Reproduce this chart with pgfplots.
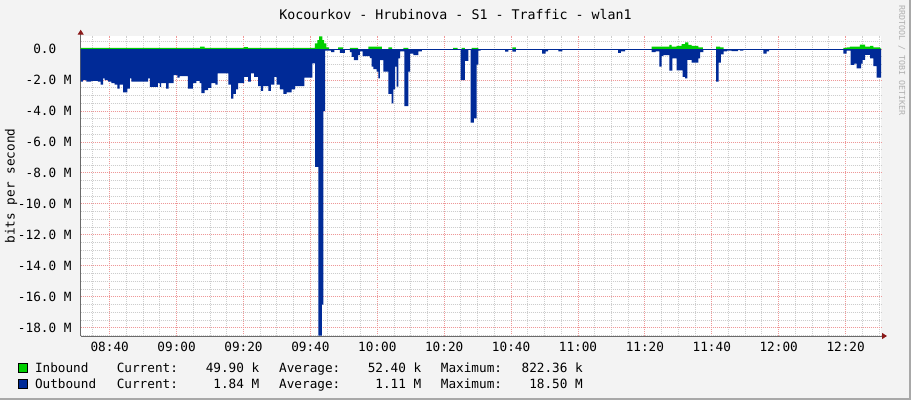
\documentclass[border=0pt]{standalone}
\usepackage{pgfplots}
\pgfplotsset{compat=1.18}
\usetikzlibrary{arrows.meta}
\usepackage{fontspec}
\setmainfont{DejaVu Sans Mono}
\definecolor{bgc}{HTML}{F3F3F3}
\definecolor{inb}{HTML}{00CF00}
\definecolor{outb}{HTML}{002A97}
\definecolor{mgrid}{HTML}{EE9898}
\definecolor{ngrid}{HTML}{CDCDCD}
\definecolor{wm}{HTML}{B0B0B0}
\definecolor{axc}{HTML}{6A6A6A}
\definecolor{arc}{HTML}{8B1A1A}
\definecolor{shb}{HTML}{A8A8A8}
\newcommand\fs{\fontsize{12.7}{14}\selectfont}
\begin{document}
\begin{tikzpicture}[x=1pt,y=1pt]
\useasboundingbox[fill=bgc] (0,0) rectangle (911,400);
\begin{axis}[
  at={(80.7pt,64pt)}, anchor=south west,
  scale only axis, width=800.3pt, height=300.3pt,
  xmin=31.33, xmax=270.58, ymin=-18.52, ymax=0.86,
  axis background/.style={fill=white},
  axis x line=bottom, axis y line=left,
  x axis line style={draw=axc, line width=1pt, shorten >=-6pt, -{Triangle[length=5pt,width=6pt,color=arc]}},
  y axis line style={draw=axc, line width=1pt, shorten >=-6pt, -{Triangle[length=5pt,width=6pt,color=arc]}},
  xtick={40,60,80,100,120,140,160,180,200,220,240,260},
  xticklabels={08:40,09:00,09:20,09:40,10:00,10:20,10:40,11:00,11:20,11:40,12:00,12:20},
  minor xtick={35,45,50,55,65,70,75,85,90,95,105,110,115,125,130,135,145,150,155,165,170,175,185,190,195,205,210,215,225,230,235,245,250,255,265,270},
  ytick={0,-2,-4,-6,-8,-10,-12,-14,-16,-18},
  yticklabels={0.0\phantom{ M},-2.0 M,-4.0 M,-6.0 M,-8.0 M,-10.0 M,-12.0 M,-14.0 M,-16.0 M,-18.0 M},
  minor ytick={0.5,-0.5,-1,-1.5,-2.5,-3,-3.5,-4.5,-5,-5.5,-6.5,-7,-7.5,-8.5,-9,-9.5,-10.5,-11,-11.5,-12.5,-13,-13.5,-14.5,-15,-15.5,-16.5,-17,-17.5,-18.5},
  grid=both,
  major grid style={draw=mgrid, dash pattern=on 1pt off 1pt, line width=1pt},
  minor grid style={draw=ngrid, dash pattern=on 1pt off 1pt, line width=1pt},
  major tick length=0pt, minor tick length=0pt,
  xticklabel style={anchor=base, yshift=-15pt, inner sep=0pt, font=\fs},
  yticklabel style={anchor=east, xshift=-9pt, inner sep=0pt, font=\fs},
]
\addplot[const plot, draw=none, fill=inb] coordinates {
(31.33,0) (31.33,0.08) (67.0,0.15) (68.4,0.08) (80.2,0.12) (81.3,0.08)
(101.3,0.37) (102.1,0.58) (102.6,0.82) (103.6,0.58) (104.1,0.37) (104.8,0.1) (105.6,0)
(108.3,0.1) (109.8,0) (111.8,0.08) (114.3,0) (117.3,0.15) (121.4,0) (123.3,0.1) (124.4,0)
(127.8,0.08) (129.3,0) (142.7,0.08) (144.0,0) (145.2,0.08) (146.2,0) (148.2,0.08) (150.2,0)
(160.4,0.1) (161.4,0) (202.0,0.15) (207.3,0.26) (208.0,0.15) (209.5,0.2) (211.0,0.32)
(212.0,0.43) (213.0,0.26) (214.0,0.2) (216.0,0.1) (217.3,0) (221.3,0.15) (222.5,0.1) (223.5,0)
(259.3,0.08) (260.3,0.1) (261.3,0.15) (264.3,0.28) (265.8,0.15) (267.3,0.2) (268.3,0.1)
(270.3,0.05) (270.58,0.05) (270.58,0)
} \closedcycle;
\addplot[const plot, draw=none, fill=outb] coordinates {
(31.33,0) (31.33,-2.1) (32.0,-2.0) (33.0,-2.1) (34.5,-2.05) (36.5,-2.1) (37.3,-2.3) (38.0,-1.9)
(38.5,-2.0) (39.5,-2.1) (40.5,-2.2) (41.5,-2.3) (42.3,-2.55) (43.0,-2.3) (44.0,-2.8) (45.3,-2.55)
(46.0,-1.9) (46.5,-2.1) (51.5,-1.9) (52.0,-2.45) (54.4,-2.2) (55.0,-2.45) (55.4,-2.2) (56.9,-2.55)
(57.6,-2.2) (59.1,-1.68) (60.2,-1.85) (60.9,-1.75) (63.4,-2.55) (64.9,-2.2) (65.9,-2.05) (66.9,-2.2)
(67.4,-2.85) (68.4,-2.65) (69.4,-2.5) (70.4,-2.2) (71.6,-2.3) (72.3,-1.57) (75.5,-2.3) (76.3,-3.2)
(77.0,-2.9) (77.7,-2.6) (78.4,-2.2) (80.2,-1.8) (81.4,-2.1) (82.2,-1.57) (83.2,-1.8) (84.4,-2.4)
(85.2,-2.7) (85.9,-2.4) (87.4,-2.7) (88.2,-2.3) (89.2,-1.8) (89.9,-2.3) (90.9,-2.6) (91.9,-2.9)
(92.9,-2.8) (94.4,-2.6) (95.4,-2.4) (98.2,-1.85) (100.6,-0.92) (101.4,-7.6) (102.4,-18.5)
(103.4,-16.5) (103.9,-4.0) (104.4,-0.1) (106.2,-0.2) (107.2,0) (108.8,-0.25) (110.3,0)
(111.8,-0.2) (112.3,-0.5) (113.0,-0.71) (114.3,-0.4) (114.8,-0.15) (115.6,-0.45) (117.8,-0.58)
(118.3,-1.14) (118.8,-1.3) (119.8,-1.46) (120.3,-1.9) (120.8,-0.71) (121.8,-1.46) (123.3,-2.9)
(124.3,-3.5) (124.8,-2.6) (125.3,-1.14) (125.8,-2.43) (126.3,-0.6) (126.8,-0.15) (128.1,-3.68)
(129.3,-1.46) (129.8,-0.3) (130.8,-0.4) (132.3,-0.15) (133.3,0) (144.9,-2.0) (146.2,-0.77)
(147.2,0) (147.9,-4.75) (148.9,-4.47) (149.7,-1.0) (150.2,-0.1) (150.9,0) (158.2,-0.17)
(159.2,0) (160.4,-0.17) (161.4,0) (169.3,-0.3) (170.3,-0.15) (171.1,0) (174.1,-0.15) (175.3,0)
(192.0,-0.25) (192.8,-0.15) (194.1,0) (202.0,-0.2) (203.2,-0.15) (204.3,-1.14) (205.0,-0.45)
(205.5,-0.4) (207.3,-1.4) (208.2,-0.6) (209.5,-1.37) (211.3,-1.8) (212.0,-1.9) (212.7,-0.7)
(214.0,-0.87) (216.0,-0.6) (216.5,-0.2) (217.5,0) (221.3,-2.1) (222.0,-0.87) (222.7,-0.35)
(223.5,-0.15) (224.6,-0.1) (225.9,-0.13) (227.9,0) (228.4,-0.1) (229.4,0) (235.4,-0.3)
(236.4,-0.15) (237.1,0) (259.3,-0.3) (260.3,-0.1) (261.5,-1.03) (262.6,-0.95) (263.3,-1.25)
(264.6,-0.95) (265.1,-0.7) (265.8,-0.37) (267.3,-0.6) (268.3,-1.1) (269.3,-1.85)
(270.58,-1.85) (270.58,0)
} \closedcycle;
\addplot[outb, line width=1pt] coordinates {(31.33,0) (270.58,0)};
\end{axis}
\node[anchor=base, inner sep=0pt, font=\fontsize{13.3}{15}\selectfont] at (455.5,380.7) {Kocourkov - Hrubinova - S1 - Traffic - wlan1};
\node[rotate=90, inner sep=0pt, font=\fs] at (11,214) {bits per second};
\node[rotate=-90, anchor=west, inner sep=0pt, text=wm, font=\fontsize{8.3}{9}\selectfont] at (901.7,395) {RRDTOOL / TOBI OETIKER};
\filldraw[fill=inb, draw=black, line width=0.8pt] (18,27.5) rectangle (27,36.5);
\filldraw[fill=outb, draw=black, line width=0.8pt] (18,12) rectangle (27,21);
\begin{scope}[every node/.style={inner sep=0pt, font=\fs}]
\node[anchor=base west] at (34.8,27.5) {Inbound};
\node[anchor=base west] at (116.6,27.5) {Current:};
\node[anchor=base east] at (259.5,27.5) {49.90 k};
\node[anchor=base west] at (279,27.5) {Average:};
\node[anchor=base east] at (421.5,27.5) {52.40 k};
\node[anchor=base west] at (440.7,27.5) {Maximum:};
\node[anchor=base east] at (583,27.5) {822.36 k};
\node[anchor=base west] at (34.8,12) {Outbound};
\node[anchor=base west] at (116.6,12) {Current:};
\node[anchor=base east] at (259.5,12) {1.84 M};
\node[anchor=base west] at (279,12) {Average:};
\node[anchor=base east] at (421.5,12) {1.11 M};
\node[anchor=base west] at (440.7,12) {Maximum:};
\node[anchor=base east] at (583,12) {18.50 M};
\end{scope}
\draw[shb, line width=2pt] (0,1) -- (910,1) -- (910,400);
\end{tikzpicture}
\end{document}
